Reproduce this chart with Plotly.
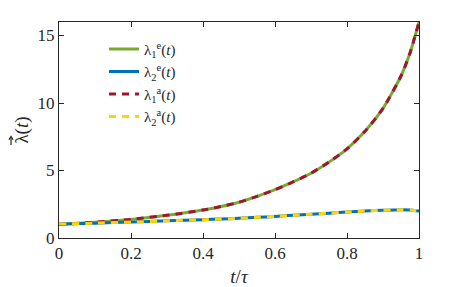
import plotly.graph_objects as go

t = [0, 0.1, 0.2, 0.3, 0.4, 0.45, 0.5, 0.55, 0.6, 0.65, 0.7, 0.75, 0.8, 0.85, 0.9, 0.95, 0.975, 1.0]
lam1_e = [1.0, 1.17, 1.38, 1.68, 2.07, 2.33, 2.65, 3.08, 3.58, 4.15, 4.8, 5.62, 6.6, 7.9, 9.6, 12.0, 13.7, 16.0]
lam1_a = [1.0, 1.17, 1.38, 1.68, 2.07, 2.33, 2.65, 3.08, 3.58, 4.15, 4.8, 5.62, 6.6, 7.9, 9.6, 12.0, 13.7, 16.0]
lam2_e = [1.03, 1.1, 1.18, 1.27, 1.36, 1.41, 1.46, 1.53, 1.6, 1.68, 1.76, 1.84, 1.92, 2.0, 2.06, 2.1, 2.08, 2.0]
lam2_a = [1.03, 1.1, 1.18, 1.27, 1.36, 1.41, 1.46, 1.53, 1.6, 1.68, 1.76, 1.84, 1.92, 2.0, 2.06, 2.1, 2.08, 2.0]

names = ["λ<sub>1</sub><sup>e</sup>(<i>t</i>)", "λ<sub>2</sub><sup>e</sup>(<i>t</i>)",
         "λ<sub>1</sub><sup>a</sup>(<i>t</i>)", "λ<sub>2</sub><sup>a</sup>(<i>t</i>)"]
x_ticks = [0, 0.2, 0.4, 0.6, 0.8, 1]
x_tick_text = ["0", "0.2", "0.4", "0.6", "0.8", "1"]
y_ticks = [0, 5, 10, 15]

font = "Liberation Serif"
ink = "#262626"
fig = go.Figure()
fig.add_trace(go.Scatter(x=t, y=lam1_e, mode="lines", name=names[0],
                         line=dict(color="#77AC30", width=3, shape="spline", smoothing=0.6)))
fig.add_trace(go.Scatter(x=t, y=lam2_e, mode="lines", name=names[1],
                         line=dict(color="#0072BD", width=3, shape="spline", smoothing=0.6)))
fig.add_trace(go.Scatter(x=t, y=lam1_a, mode="lines", name=names[2],
                         line=dict(color="#A2142F", width=3, dash="7px,6px", shape="spline", smoothing=0.6)))
fig.add_trace(go.Scatter(x=t, y=lam2_a, mode="lines", name=names[3],
                         line=dict(color="#FFD700", width=3, dash="7px,6px", shape="spline", smoothing=0.6)))

axis_common = dict(showgrid=False, zeroline=False, showline=True, linecolor=ink,
                   linewidth=1, mirror="ticks", ticks="inside", ticklen=5, automargin=False,
                   tickcolor=ink, tickfont=dict(family=font, size=17, color=ink))
fig.update_xaxes(range=[0, 1], tickvals=x_ticks, ticktext=x_tick_text,
                 title=dict(text="<i>t</i>/<i>τ</i>", font=dict(family=font, size=19, color=ink),
                            standoff=14),
                 **axis_common)
fig.update_yaxes(range=[0, 16], tickvals=y_ticks,
                 title=dict(text="λ(<i>t</i>)",
                            font=dict(family=font, size=19, color=ink),
                            standoff=3),
                 **axis_common)

# vector arrow over lambda in the y-axis title (paper coordinates, outside the plot area)
ax_x = -0.1333
fig.add_shape(type="line", xref="paper", yref="paper", x0=ax_x, x1=ax_x, y0=0.43, y1=0.465,
              line=dict(color=ink, width=1.2), layer="above")
fig.add_shape(type="path", xref="paper", yref="paper",
              path=f"M {ax_x - 0.0058} 0.455 L {ax_x} 0.4706 L {ax_x + 0.0058} 0.455",
              line=dict(color=ink, width=1.2), layer="above")

# the page body adds an 8px offset, so the figure is 8px smaller and margins shifted
fig.update_layout(width=455, height=279, margin=dict(l=51, r=44, t=14, b=49),
                  font=dict(family=font, color=ink),
                  plot_bgcolor="white", paper_bgcolor="white",
                  legend=dict(x=0.125, y=0.95, xanchor="left", yanchor="top",
                              bgcolor="rgba(0,0,0,0)", font=dict(family=font, size=15, color=ink),
                              tracegroupgap=0, itemwidth=30))
fig.write_html("out.html")
